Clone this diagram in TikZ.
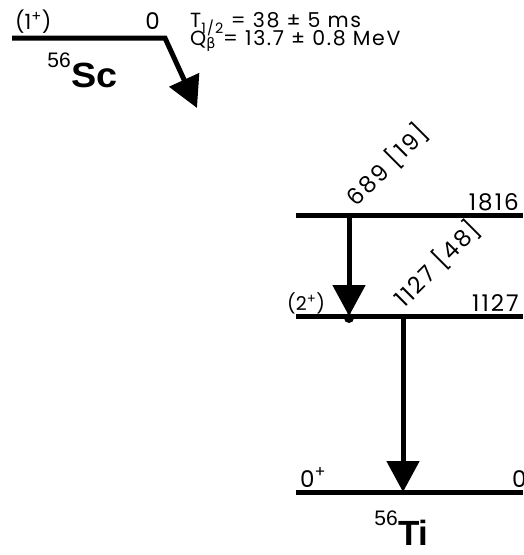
\documentclass[tikz,border=0pt]{standalone}
\usepackage{fontspec}
\setmainfont{Poppins}[LetterSpace=9]
\newfontfamily\tight{Poppins}
\newfontfamily\helv{Liberation Sans}
\newfontfamily\greek{DejaVu Sans}
\usetikzlibrary{arrows.meta}
\begin{document}
\begin{tikzpicture}[x=1pt,y=-1pt,
  level/.style={line width=5pt},
  trans/.style={line width=5pt, -{Triangle[length=31pt,width=32pt]}},
  lab/.style={font=\fontsize{23}{23}\selectfont, inner sep=0pt},
  spin/.style={font=\fontsize{21}{21}\tight, inner sep=0pt},
  small/.style={font=\fontsize{20.5}{20.5}\selectfont\addfontfeatures{LetterSpace=8}, inner sep=0pt},
  iso/.style={font=\fontsize{35}{35}\helv\bfseries, inner sep=0pt},
  mass/.style={font=\fontsize{21}{21}\helv, inner sep=0pt}]
\useasboundingbox (0,0) rectangle (523,555);
% parent
\coordinate (scL) at (12,38);
\coordinate (scR) at (165,38);
\coordinate (betaTip) at (197,108);
\draw[level, trans, line join=miter] (scL) -- (scR) -- (betaTip);
\node[spin, anchor=base west] (scspin) at (15,29) {(1\textsuperscript{+})};
\node[lab, anchor=base east] (scen) at (160,29) {0};
\node[mass, anchor=base east] (scA) at (71,67) {56};
\node[iso, anchor=base west, xscale=1.08] (scN) at (71,87) {Sc};
\node[small, anchor=base west] (thalf) at (190,27) {T\textsubscript{1/2} = 38 ± 5 ms};
\node[small, anchor=base west] (qbeta) at (190,45) {Q\textsubscript{\greek β} = 13.7 ± 0.8 MeV};
% daughter levels
\coordinate (l2L) at (296,215); \coordinate (l2R) at (523,215);
\coordinate (l1L) at (296,316); \coordinate (l1R) at (523,316);
\coordinate (l0L) at (296,492); \coordinate (l0R) at (523,492);
\draw[level] (l2L) -- (l2R);
\draw[level] (l1L) -- (l1R);
\draw[level] (l0L) -- (l0R);
\node[lab, anchor=base east] (e2) at (519,210) {1816};
\node[lab, anchor=base east] (e1) at (519,311) {1127};
\node[spin, anchor=base west, font=\fontsize{19}{19}\tight] (s1) at (287,310) {(2\textsuperscript{+})};
\node[lab, anchor=base west] (s0) at (300,487) {0\textsuperscript{+}};
\node[lab, anchor=base west] (e0) at (512,487) {0};
% gamma transitions
\coordinate (g1top) at (349,215); \coordinate (g1bot) at (349,316);
\coordinate (g2top) at (403,316); \coordinate (g2bot) at (403,492);
\draw[trans] (g1top) -- (g1bot);
\fill (349,318) circle (5pt);
\draw[trans] (g2top) -- (g2bot);
\node[lab, rotate=45] (gl1) at (387,165) {689 [19]};
\node[lab, rotate=45] (gl2) at (437,264) {1127 [48]};
\node[mass, anchor=base east] (tiA) at (398,525) {56};
\node[iso, anchor=base west] (tiN) at (398,545) {Ti};
\end{tikzpicture}
\end{document}
